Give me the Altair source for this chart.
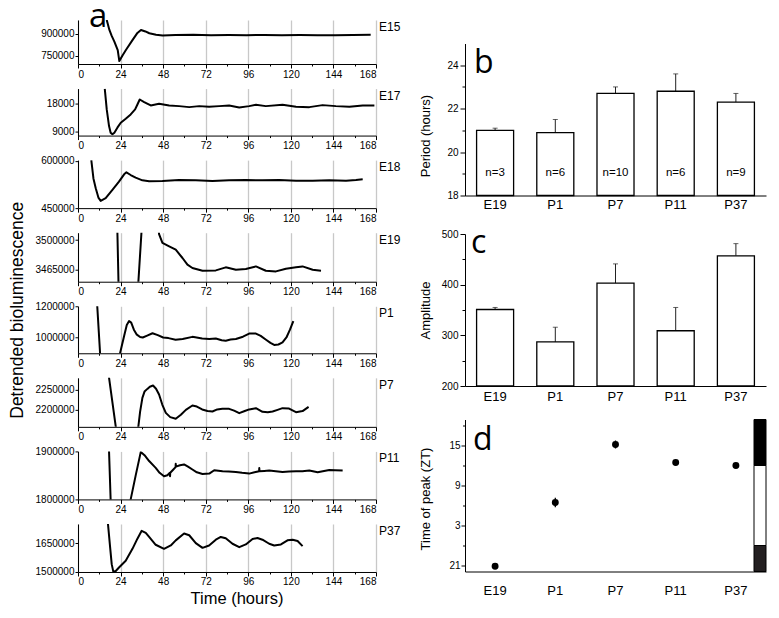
import altair as alt
import pandas as pd

FONT = "Liberation Sans"
LETTER_FONT = "Open Sans"

# ---------------- panel a: detrended bioluminescence traces ----------------
e15_t = [16.2, 17.7, 19.0, 20.5, 22.4, 23.3, 25.0, 27.0, 30.8, 33.5, 35.5, 38.0, 40.2, 44.0, 47.7,
         55, 65, 75, 85, 95, 105, 115, 125, 135, 145, 155, 165]
e15_v = [992000, 925000, 885000, 846000, 790000, 716000, 752000, 790000, 858000, 905000, 925000,
         915000, 903000, 893000, 887000, 891000, 892000, 890000, 891000, 890000, 891000, 890000,
         891000, 890000, 890000, 891000, 892000]

e17_t = [15.1, 16.2, 17.5, 18.4, 19.4, 20.5, 22.2, 24.1, 26.9, 29.7, 32.2, 33.5, 34.8, 37.3, 41.0,
         45.7, 51.4, 57.0, 62.7, 68.3, 73.9, 79.6, 85.2, 90.9, 96.5, 100.3, 105.9, 115.3, 122.9,
         130.4, 137.9, 145.4, 153.0, 160.5, 167.1]
e17_v = [22770, 16200, 10900, 8780, 8250, 8780, 10370, 11960, 13230, 14600, 16200, 17790, 19380,
         18530, 17470, 18000, 17470, 17260, 16940, 17260, 17050, 17260, 17470, 16830, 17260, 17680,
         17260, 17680, 17050, 16940, 17580, 17260, 17050, 17470, 17470]

e18_t = [7.5, 8.7, 10.0, 11.5, 12.8, 15.6, 19.4, 23.1, 26.0, 27.3, 29.7, 32.5, 36.3, 40.1, 47.6, 57,
         66.4, 75.8, 85.2, 94.6, 104, 113.4, 122.9, 132.3, 141.7, 151.1, 156.7, 160.5]
e18_v = [602000, 544000, 512900, 483500, 473000, 481400, 507700, 533900, 557000, 563300, 554900,
         546500, 538100, 534900, 536000, 539100, 538100, 536000, 538100, 539100, 538100, 539100,
         537000, 537000, 538100, 537000, 539100, 541200]

e19_t = [20.5, 24, 29, 33, 37, 40, 44, 45.7, 47.6, 51.4, 55.1, 58.9, 61.7, 64.5, 70.2, 77.7, 83.3,
         89, 94.6, 100.3, 105.9, 111.6, 117.2, 122.9, 126.6, 132.3, 137]
e19_v = [3670000, 3340000, 3250000, 3416000, 3550000, 3580000, 3540000, 3507000, 3496500, 3492500,
         3488600, 3478800, 3470900, 3467000, 3463800, 3464200, 3467800, 3465000, 3465800, 3468900,
         3463800, 3463000, 3466200, 3467800, 3468900, 3465000, 3463800]

p1_t = [10.7, 12.7, 17, 22, 23.7, 26, 27.5, 28.8, 30, 31.5, 33, 35, 36.5, 39, 42, 45, 48, 51, 55, 59,
        64.5, 70, 74, 77.7, 81, 83.3, 86, 89, 93, 96.5, 100.3, 103, 106, 108.5, 110.6, 113, 115.3,
        117.5, 119.5, 121.4]
p1_v = [1230000, 850000, 700000, 820000, 899000, 1010000, 1080000, 1105000, 1095000, 1050000,
        1020000, 1003000, 1000000, 1012000, 1027000, 1015000, 1000000, 996000, 985000, 990000,
        1004000, 993000, 990000, 993000, 982000, 979000, 987000, 990000, 1005000, 1025000, 1025000,
        1010000, 985000, 965000, 952000, 955000, 968000, 1000000, 1050000, 1105000]

p7_t = [17, 22, 27, 33, 34, 35, 36.3, 37.5, 39.1, 40.5, 42.3, 44, 45.7, 47.5, 49.5, 52, 55.1, 58,
        60.8, 64.5, 67, 70, 73, 75.8, 78.5, 81.4, 85.2, 88, 90.9, 94, 96.5, 100.3, 104, 107, 109.7,
        112.5, 115.3, 119, 122.9, 126.6, 130]
p7_v = [2295000, 2136000, 2060000, 2127000, 2158000, 2195000, 2229500, 2245000, 2251600, 2257000,
        2259800, 2252000, 2237700, 2213000, 2192600, 2182000, 2177900, 2188000, 2200000, 2210600,
        2208000, 2201000, 2197000, 2196000, 2201000, 2202500, 2202500, 2198000, 2191800, 2197000,
        2201000, 2204100, 2195100, 2194000, 2196000, 2200000, 2204100, 2203000, 2194300, 2197000,
        2207400]

p11_t = [17.2, 18.7, 23, 27, 29.7, 32.5, 35.4, 37.5, 40.1, 43.8, 46, 48.5, 50.4, 51.8, 51.9, 52.0,
         53.5, 55.0, 55.1, 55.2, 57.5, 59.8, 62, 64.5, 67, 70.2, 74, 76.8, 81.5, 85, 89, 92.5, 96.5,
         99.5, 102.1, 102.2, 102.3, 105, 107.8, 111.5, 115.3, 119, 122.9, 126.5, 130.4, 135.1, 138,
         141.7, 145, 149.2]
p11_v = [1935000, 1765000, 1650000, 1745000, 1800000, 1850000, 1900000, 1893000, 1880700, 1866400,
         1856000, 1848600, 1850700, 1856000, 1849000, 1856000, 1862000, 1868000, 1875000, 1869000,
         1872000, 1873600, 1869000, 1862900, 1857000, 1853600, 1854300, 1861400, 1859300, 1858600,
         1857900, 1856000, 1854300, 1857000, 1859300, 1866000, 1859300, 1860000, 1860700, 1859300,
         1857900, 1858600, 1859300, 1859300, 1860700, 1857100, 1859300, 1862100, 1861400, 1860700]

p37_t = [16.7, 16.9, 18.1, 19.0, 19.9, 21.3, 23.1, 26.9, 30.7, 33.5, 35.9, 38.2, 40.1, 43.8, 48.5,
         52.3, 55.1, 59.8, 62.7, 66.4, 70.2, 73.9, 77.7, 80.5, 83.3, 87.1, 90.9, 94.6, 98.4, 101.2,
         104, 107.8, 110.6, 114.4, 118.1, 121, 123.8, 126.6]
p37_v = [1775000, 1748800, 1628800, 1540700, 1501800, 1505400, 1523000, 1558300, 1620000, 1672900,
         1713500, 1702900, 1681700, 1641200, 1620000, 1637700, 1664100, 1699400, 1690600, 1650000,
         1625300, 1637700, 1667600, 1681700, 1674700, 1646500, 1628800, 1642900, 1671200, 1676500,
         1667600, 1646500, 1637700, 1642900, 1664100, 1667600, 1660600, 1634100]

a_names = ["E15", "E17", "E18", "E19", "P1", "P7", "P11", "P37"]
a_times = [e15_t, e17_t, e18_t, e19_t, p1_t, p7_t, p11_t, p37_t]
a_vals = [e15_v, e17_v, e18_v, e19_v, p1_v, p7_v, p11_v, p37_v]
a_domains = [[696000, 992000], [7850, 22870], [450000, 602000], [3450860, 3508600],
             [898700, 1200000], [2158100, 2278800], [1800000, 1901000], [1500000, 1749000]]
a_ticks = [[750000, 900000], [9000, 18000], [450000, 600000], [3465000, 3500000],
           [1000000, 1200000], [2200000, 2250000], [1800000, 1900000], [1500000, 1650000]]
a_heights = [44, 47, 48, 49, 47, 49, 48, 48]
x_ticks = list(range(0, 169, 12))

# ---------------- panels b, c, d ----------------
cats = ["E19", "P1", "P7", "P11", "P37"]
period = [21.0, 20.9, 22.7, 22.8, 22.3]
period_err = [0.1, 0.6, 0.3, 0.8, 0.4]
n_labels = ["n=3", "n=6", "n=10", "n=6", "n=9"]
amplitude = [351, 287, 403, 309, 457]
amplitude_err = [4, 29, 38, 46, 24]
peak_zt = [-3.1, 6.45, 15.15, 12.45, 12.0]   # ZT, with 21 shown as -3
peak_err = [0.2, 0.7, 0.6, 0.2, 0.2]
ld_start = [12, 0, -3.9]
ld_end = [18.9, 12, 0]
ld_fill = ["#000000", "#ffffff", "#231f20"]

A_W = 298
R_W = 301
R_H = 152


def cond(test, a, b):
    return {"condition": {"test": test, "value": a}, "value": b}


def a_panel(i):
    df = pd.DataFrame({"t": a_times[i], "v": a_vals[i]})
    h = a_heights[i]
    x = alt.X("t:Q", scale=alt.Scale(domain=[0, 168], nice=False, zero=False),
              axis=alt.Axis(values=x_ticks, title=None, format="d",
                            labelExpr="datum.value % 24 ? '' : datum.label",
                            tickSize=cond("datum.value % 24 != 0", 2, 4),
                            grid=True,
                            gridOpacity=cond("datum.value % 24 != 0", 0, 1),
                            gridColor="#c8c8c8", gridWidth=1.3,
                            labelFontSize=10, labelPadding=1))
    y = alt.Y("v:Q", scale=alt.Scale(domain=a_domains[i], nice=False, zero=False),
              axis=alt.Axis(values=a_ticks[i], format="d", title=None, grid=False,
                            tickSize=3, labelFontSize=10, labelPadding=1))
    line = alt.Chart(df).mark_line(color="black", strokeWidth=2, clip=True,
                                   strokeJoin="round").encode(x=x, y=y)
    lab = alt.Chart(pd.DataFrame({"name": [a_names[i]]})).mark_text(
        align="left", baseline="top", fontSize=12, font=FONT, color="black"
    ).encode(text="name:N", x=alt.value(A_W + 3), y=alt.value(2))
    layers = [line, lab]
    if i == 0:
        layers.append(alt.Chart(pd.DataFrame({"s": ["a"]})).mark_text(
            align="left", baseline="alphabetic", fontSize=33, font=LETTER_FONT, color="black"
        ).encode(text="s:N", x=alt.value(11), y=alt.value(7)))
    if i == 4:
        layers.append(alt.Chart(pd.DataFrame({"s": ["Detrended bioluminescence"]})).mark_text(
            align="center", baseline="alphabetic", angle=270, fontSize=17.5, font=FONT, color="black"
        ).encode(text="s:N", x=alt.value(-55), y=alt.value(4)))
    if i == 7:
        layers.append(alt.Chart(pd.DataFrame({"s": ["Time (hours)"]})).mark_text(
            align="center", baseline="alphabetic", fontSize=16.5, font=FONT, color="black"
        ).encode(text="s:N", x=alt.value(159), y=alt.value(h + 32)))
    return alt.layer(*layers).properties(width=A_W, height=h)


left = alt.vconcat(*[a_panel(i) for i in range(8)], spacing=24.57, bounds="flush")


def xband(pad):
    return alt.X("cat:N", sort=cats,
                 scale=alt.Scale(paddingInner=0.385, paddingOuter=0.1925),
                 axis=alt.Axis(title=None, ticks=False, tickSize=0, labelAngle=0,
                               labelFontSize=13, labelPadding=pad, labelColor="black"))


def letter(ch, lx, ly):
    return alt.Chart(pd.DataFrame({"s": [ch]})).mark_text(
        align="left", baseline="alphabetic", fontSize=32, font=LETTER_FONT, color="black"
    ).encode(text="s:N", x=alt.value(lx), y=alt.value(ly))


# panel b
dfb = pd.DataFrame({"cat": cats, "val": period,
                    "top": [p + e for p, e in zip(period, period_err)], "n": n_labels})


def yb(field):
    return alt.Y(field, scale=alt.Scale(domain=[18, 25], nice=False, zero=False),
                 axis=alt.Axis(values=[18, 19, 20, 21, 22, 23, 24], title="Period (hours)",
                               labelExpr="datum.value % 2 ? '' : datum.label",
                               tickSize=cond("datum.value % 2 != 0", 3, 5), labelPadding=2,
                               labelFontSize=10, titleFontSize=13, titleX=-39.5, titleY=92,
                               titleBaseline="middle", grid=False))


xb = xband(3)
b_err = alt.Chart(dfb).mark_rule(color="#222", strokeWidth=1).encode(x=xb, y=yb("val:Q"), y2="top:Q")
b_cap = alt.Chart(dfb).mark_tick(color="#222", thickness=1, size=5).encode(x=xb, y=yb("top:Q"))
b_bar = alt.Chart(dfb).mark_bar(fill="white", stroke="black", strokeWidth=1.3).encode(
    x=xb, y=yb("val:Q"), y2=alt.datum(18))
b_n = alt.Chart(dfb).mark_text(fontSize=11.5, font=FONT, baseline="middle", color="black").encode(
    x=xb, text="n:N", y=alt.value(129))
panel_b = alt.layer(b_err, b_cap, b_bar, b_n, letter("b", 9, 29)).properties(width=R_W, height=R_H)

# panel c
dfc = pd.DataFrame({"cat": cats, "val": amplitude,
                    "top": [a + e for a, e in zip(amplitude, amplitude_err)]})


def yc(field):
    return alt.Y(field, scale=alt.Scale(domain=[200, 500], nice=False, zero=False),
                 axis=alt.Axis(values=[200, 250, 300, 350, 400, 450, 500], title="Amplitude",
                               labelExpr="datum.value % 100 ? '' : datum.label",
                               tickSize=cond("datum.value % 100 != 0", 3, 5), labelPadding=2,
                               labelFontSize=10, titleFontSize=13, titleX=-39.5, titleY=76,
                               titleBaseline="middle", grid=False))


xc = xband(4)
c_err = alt.Chart(dfc).mark_rule(color="#222", strokeWidth=1).encode(x=xc, y=yc("val:Q"), y2="top:Q")
c_cap = alt.Chart(dfc).mark_tick(color="#222", thickness=1, size=5).encode(x=xc, y=yc("top:Q"))
c_bar = alt.Chart(dfc).mark_bar(fill="white", stroke="black", strokeWidth=1.3).encode(
    x=xc, y=yc("val:Q"), y2=alt.datum(200))
panel_c = alt.layer(c_err, c_cap, c_bar, letter("c", 6, 19)).properties(width=R_W, height=R_H)

# panel d
dfd = pd.DataFrame({"cat": cats, "val": peak_zt,
                    "lo": [p - e for p, e in zip(peak_zt, peak_err)],
                    "hi": [p + e for p, e in zip(peak_zt, peak_err)]})
dfl = pd.DataFrame({"lo": ld_start, "hi": ld_end, "fill": ld_fill})


def yd(field):
    return alt.Y(field, scale=alt.Scale(domain=[-3.9, 18.9], nice=False, zero=False),
                 axis=alt.Axis(values=[-3, 0, 3, 6, 9, 12, 15, 18], title="Time of peak (ZT)",
                               labelExpr="(datum.value + 3) % 6 ? '' : (datum.value < 0 ? datum.value + 24 : datum.value)",
                               tickSize=cond("(datum.value + 3) % 6 != 0", 2.5, 4), labelPadding=1,
                               labelFontSize=10, titleFontSize=13, titleX=-39.5, titleY=79,
                               titleBaseline="middle", grid=False))


xd = xband(13)
d_err = alt.Chart(dfd).mark_rule(color="black", strokeWidth=1.3).encode(x=xd, y=yd("lo:Q"), y2="hi:Q")
d_pt = alt.Chart(dfd).mark_circle(size=48, color="black", opacity=1).encode(x=xd, y=yd("val:Q"))
d_ld = alt.Chart(dfl).mark_rect(stroke="black", strokeWidth=1).encode(
    y=yd("lo:Q"), y2="hi:Q", x=alt.value(289), x2=alt.value(301),
    fill=alt.Fill("fill:N", scale=None))
panel_d = alt.layer(d_ld, d_err, d_pt, letter("d", 8, 30)).properties(width=R_W, height=R_H)

spacer = alt.Chart(pd.DataFrame({"v": [0]})).mark_rule(opacity=0, strokeWidth=1).encode(
    x=alt.value(0), y=alt.value(0), y2=alt.value(7.5)).properties(width=1, height=1)

right = alt.vconcat(spacer, panel_b, panel_c, panel_d, spacing=15.5)

chart = alt.hconcat(left, right, spacing=18).properties(
    padding={"left": 0, "top": -7, "right": 0, "bottom": 0}
).configure_view(stroke=None).configure_axis(
    labelFont=FONT, titleFont=FONT, labelColor="black", titleColor="black",
    titleFontWeight="normal", domainColor="black", tickColor="black",
    domainWidth=1, tickWidth=1
)

chart.save("out.html", embed_options={"renderer": "svg", "actions": False})
